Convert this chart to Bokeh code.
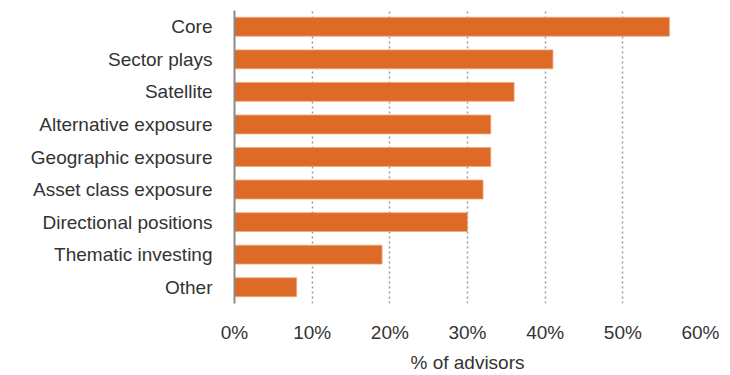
from bokeh.plotting import figure
from bokeh.models import ColumnDataSource, NumeralTickFormatter, FixedTicker
from bokeh.embed import file_html
from bokeh.resources import INLINE

categories = ["Core", "Sector plays", "Satellite", "Alternative exposure",
              "Geographic exposure", "Asset class exposure", "Directional positions",
              "Thematic investing", "Other"]
values = [56, 41, 36, 33, 33, 32, 30, 19, 8]
tick_values = [0, 10, 20, 30, 40, 50, 60]

src = ColumnDataSource(data=dict(cat=categories, val=values))

p = figure(width=730, height=375, y_range=list(reversed(categories)), x_range=(0, 60),
           output_backend="svg", toolbar_location=None,
           min_border_left=234, min_border_right=30, min_border_top=10, min_border_bottom=72)
p.frame_width = 466
p.frame_height = 293

p.hbar(y="cat", right="val", left=0, height=0.58, source=src,
       fill_color="#DD6B27", line_color="#EFA77A", line_width=0.8)

p.outline_line_color = None
p.ygrid.grid_line_color = None
p.xgrid.grid_line_color = "#9a9a9a"
p.xgrid.grid_line_dash = "2 3"
p.xgrid.grid_line_width = 1.5
p.xgrid.ticker = FixedTicker(ticks=tick_values)

p.xaxis.ticker = FixedTicker(ticks=tick_values)
p.xaxis.formatter = NumeralTickFormatter(format="0")
p.xaxis.major_label_overrides = {v: f"{v}%" for v in tick_values}
p.xaxis.axis_line_color = None
p.xaxis.major_tick_line_color = None
p.xaxis.minor_tick_line_color = None
p.xaxis.major_label_standoff = 12
p.xaxis.axis_label = "% of advisors"
p.xaxis.axis_label_standoff = 6
p.xaxis.axis_label_text_font_style = "normal"

p.yaxis.axis_line_color = "#8a8a8a"
p.yaxis.axis_line_width = 2
p.yaxis.major_tick_line_color = None
p.yaxis.minor_tick_line_color = None
p.yaxis.major_label_standoff = 16

for ax in (p.xaxis, p.yaxis):
    ax.major_label_text_font = "Liberation Sans"
    ax.major_label_text_font_size = "19px"
    ax.major_label_text_color = "#333333"
    ax.axis_label_text_font = "Liberation Sans"
    ax.axis_label_text_font_size = "19px"
    ax.axis_label_text_color = "#333333"

open("out.html", "w").write(file_html(p, INLINE))
